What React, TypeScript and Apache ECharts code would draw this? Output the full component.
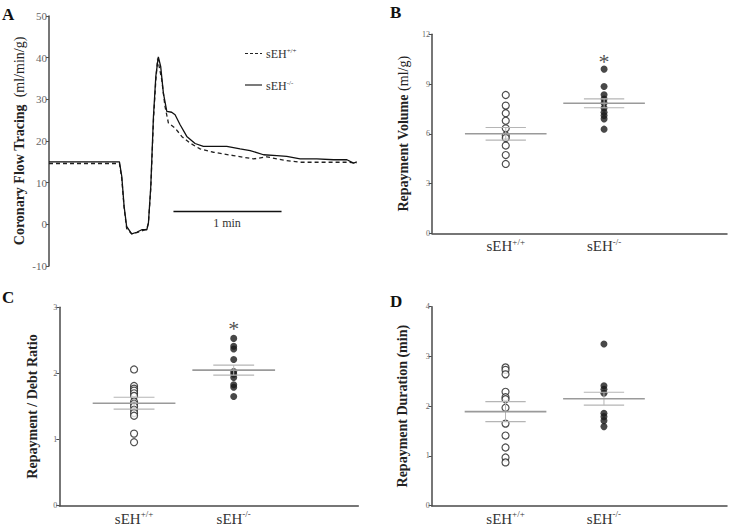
import React, { useEffect, useRef } from "react";
import * as echarts from "echarts";

// Panel A: coronary flow tracing (time in s, flow in ml/min/g)
const koTime = [0, 39.1, 40.4, 41.7, 43.1, 45.9, 48.7, 51.5, 54.3, 55.2, 56.5, 58.0, 59.3, 60.7, 62.0, 63.5, 65.4, 68.1, 70.0, 72.8, 76.5, 81.1, 85.7, 91.3, 98.7, 106.1, 111.7, 119.1, 126.5, 132.0, 139.4, 148.7, 158.0, 165.4, 169.1, 170.9];
const koFlow = [15.0, 15.0, 11.5, 4.3, -0.5, -2.3, -1.9, -1.3, -1.3, 0.3, 9.1, 26, 35.5, 40.2, 37.9, 31.5, 27.1, 26.9, 26.3, 23.9, 21.1, 19.4, 18.7, 18.7, 18.7, 18.1, 17.7, 16.7, 16.5, 16.3, 15.7, 15.7, 15.5, 15.5, 14.7, 15.0];
const wtTime = [0, 39.1, 40.4, 41.7, 43.1, 45.9, 48.7, 51.5, 54.3, 55.2, 56.5, 58.0, 59.3, 60.3, 62.6, 64.4, 66.3, 70.0, 73.7, 78.3, 83.9, 91.3, 102.4, 113.5, 120.9, 130.2, 139.4, 150.6, 165.4, 170.9];
const wtFlow = [14.6, 14.6, 11.0, 4.0, -1.0, -2.3, -2.0, -1.6, -1.1, 0.3, 8.5, 25, 34.5, 39.8, 34.7, 28.3, 24.3, 23.1, 21.1, 19.5, 18.1, 17.3, 16.5, 15.7, 16.2, 15.4, 14.9, 14.9, 14.9, 14.7];
const scaleBarTime = [69.1, 129.1];
const scaleBarLevel = 3.1;

// Group positions on the x scale (0..3)
const groupPos = [0.75, 1.75];
const groupNames = ["+/+", "-/-"];

// Panel B: repayment volume (ml/g)
const volWT = [8.34, 7.7, 7.24, 6.79, 6.33, 5.9, 5.75, 5.29, 4.72, 4.18];
const volKO = [9.9, 8.85, 8.35, 8.1, 7.85, 7.55, 7.3, 7.1, 6.9, 6.28];
const volMean = [6.0, 7.84];
const volSem = [0.38, 0.27];
const volStar = 10.45;

// Panel C: repayment / debt ratio
const ratioWT = [2.06, 1.81, 1.77, 1.74, 1.7, 1.66, 1.57, 1.54, 1.5, 1.45, 1.4, 1.36, 1.09, 0.96];
const ratioKO = [2.53, 2.41, 2.37, 2.21, 2.03, 1.99, 1.94, 1.83, 1.79, 1.65];
const ratioMean = [1.55, 2.05];
const ratioSem = [0.09, 0.075];
const ratioStar = 2.7;

// Panel D: repayment duration (min)
const durWT = [2.78, 2.73, 2.64, 2.29, 2.18, 2.14, 1.97, 1.65, 1.41, 1.17, 0.97, 0.87];
const durKO = [3.25, 2.41, 2.34, 2.26, 1.86, 1.79, 1.71, 1.59];
const durMean = [1.89, 2.15];
const durSem = [0.2, 0.13];

const SERIF = "Liberation Serif, Times New Roman, serif";

export default function App() {
  const ref = useRef<HTMLDivElement>(null);
  useEffect(() => {
    if (!ref.current) return;
    const chart = echarts.init(ref.current, null, { renderer: "svg" });

    const grids = [
      { left: 49, top: 16, width: 308, height: 250 },
      { left: 432, top: 34.3, width: 298, height: 199 },
      { left: 59.3, top: 307.3, width: 299, height: 198.4 },
      { left: 431.7, top: 306.7, width: 298.3, height: 199 },
    ];

    const axisLine = { show: true, lineStyle: { color: "#4a4a4a", width: 1.5 } };
    const yTickLabel = (size: number) => ({ fontSize: size, color: "#666", fontFamily: SERIF, margin: 2 });

    const richName = {
      b: { fontFamily: SERIF, fontWeight: "bold" as const, fontSize: 14, color: "#222" },
      n: { fontFamily: SERIF, fontWeight: "normal" as const, fontSize: 14, color: "#222" },
    };

    const catX = (idx: number) => ({
      gridIndex: idx,
      type: "value",
      min: 0,
      max: 3,
      interval: 0.25,
      axisLine,
      axisTick: { show: false },
      splitLine: { show: false },
      axisLabel: {
        margin: 4,
        formatter: (v: number) => {
          const i = groupPos.findIndex((p) => Math.abs(p - v) < 1e-6);
          return i < 0 ? "" : `{m|sEH}{s|${groupNames[i]}}`;
        },
        rich: {
          m: { fontFamily: SERIF, fontSize: 15, color: "#333", lineHeight: 18 },
          s: { fontFamily: SERIF, fontSize: 9, color: "#333", lineHeight: 9, verticalAlign: "top" },
        },
      },
    });

    const yAx = (idx: number, min: number, max: number, interval: number, name: string, gap: number, fs: number) => ({
      gridIndex: idx,
      type: "value",
      min,
      max,
      interval,
      axisLine,
      axisTick: { show: true, length: 3, lineStyle: { color: "#4a4a4a" } },
      splitLine: { show: false },
      axisLabel: yTickLabel(fs),
      name,
      nameLocation: "middle",
      nameGap: gap,
      nameTextStyle: { rich: richName },
    });

    const scatterPair = (idx: number, wt: number[], ko: number[]) => [
      {
        type: "scatter",
        xAxisIndex: idx,
        yAxisIndex: idx,
        symbol: "circle",
        symbolSize: 7,
        itemStyle: { color: "#fff", borderColor: "#222", borderWidth: 1.2 },
        data: wt.map((v) => [groupPos[0], v]),
        z: 3,
      },
      {
        type: "scatter",
        xAxisIndex: idx,
        yAxisIndex: idx,
        symbol: "circle",
        symbolSize: 7,
        itemStyle: { color: "#1a1a1a" },
        data: ko.map((v) => [groupPos[1], v]),
        z: 3,
      },
    ];

    const meanSem = (idx: number, means: number[], sems: number[]) => ({
      type: "custom",
      xAxisIndex: idx,
      yAxisIndex: idx,
      z: 4,
      data: means.map((m, i) => [groupPos[i], m, sems[i]]),
      renderItem: (params: any, api: any) => {
        const x = api.value(0);
        const m = api.value(1);
        const s = api.value(2);
        const mw = 0.415;
        const sw = 0.205;
        const l0 = api.coord([x - mw, m]);
        const l1 = api.coord([x + mw, m]);
        const up0 = api.coord([x - sw, m + s]);
        const up1 = api.coord([x + sw, m + s]);
        const dn0 = api.coord([x - sw, m - s]);
        const dn1 = api.coord([x + sw, m - s]);
        const vc0 = api.coord([x, m + s]);
        const vc1 = api.coord([x, m - s]);
        return {
          type: "group",
          children: [
            { type: "line", shape: { x1: vc0[0], y1: vc0[1], x2: vc1[0], y2: vc1[1] }, style: { stroke: "#b5b5b5", lineWidth: 1 } },
            { type: "line", shape: { x1: up0[0], y1: up0[1], x2: up1[0], y2: up1[1] }, style: { stroke: "#b5b5b5", lineWidth: 1.2 } },
            { type: "line", shape: { x1: dn0[0], y1: dn0[1], x2: dn1[0], y2: dn1[1] }, style: { stroke: "#b5b5b5", lineWidth: 1.2 } },
            { type: "line", shape: { x1: l0[0], y1: l0[1], x2: l1[0], y2: l1[1] }, style: { stroke: "#9a9a9a", lineWidth: 1.6 } },
          ],
        };
      },
    });

    const star = (idx: number, y: number) => ({
      type: "scatter",
      xAxisIndex: idx,
      yAxisIndex: idx,
      symbolSize: 0,
      data: [[groupPos[1], y]],
      label: {
        show: true,
        position: "inside",
        offset: [0, 1],
        formatter: "*",
        fontFamily: SERIF,
        fontSize: 22,
        color: "#222",
      },
      z: 5,
    });

    const legendText = (t: string, sup: string, x: number, y: number) => ({
      type: "text",
      x,
      y,
      style: {
        text: `{m|${t}}{s|${sup}}`,
        verticalAlign: "middle",
        rich: {
          m: { fontFamily: SERIF, fontSize: 12, fill: "#333", lineHeight: 14 },
          s: { fontFamily: SERIF, fontSize: 7, fill: "#333", lineHeight: 7, verticalAlign: "top" },
        },
      },
    });

    const letter = (t: string, x: number, y: number) => ({
      type: "text",
      x,
      y,
      style: { text: t, fontFamily: SERIF, fontWeight: "bold", fontSize: 17, fill: "#111", verticalAlign: "middle" },
    });

    const option: any = {
      animation: false,
      backgroundColor: "#fff",
      grid: grids,
      xAxis: [
        { gridIndex: 0, type: "value", min: 0, max: 171, show: false },
        catX(1),
        catX(2),
        catX(3),
      ],
      yAxis: [
        yAx(0, -10, 50, 10, "{b|Coronary Flow Tracing}{n|  (ml/min/g)}", 23, 11),
        yAx(1, 0, 12, 3, "{b|Repayment Volume}{n| (ml/g)}", 22, 8),
        yAx(2, 0, 3, 1, "{b|Repayment / Debt Ratio}", 20, 8),
        yAx(3, 0, 4, 1, "{b|Repayment Duration (min)}", 22, 8),
      ],
      series: [
        {
          type: "line",
          xAxisIndex: 0,
          yAxisIndex: 0,
          showSymbol: false,
          symbol: "none",
          data: wtTime.map((t, i) => [t, wtFlow[i]]),
          lineStyle: { color: "#222", width: 1.3, type: [4, 3] },
        },
        {
          type: "line",
          xAxisIndex: 0,
          yAxisIndex: 0,
          showSymbol: false,
          symbol: "none",
          data: koTime.map((t, i) => [t, koFlow[i]]),
          lineStyle: { color: "#111", width: 1.3 },
        },
        {
          type: "line",
          xAxisIndex: 0,
          yAxisIndex: 0,
          symbol: "none",
          data: scaleBarTime.map((t) => [t, scaleBarLevel]),
          lineStyle: { color: "#111", width: 1.5 },
        },
        ...scatterPair(1, volWT, volKO),
        meanSem(1, volMean, volSem),
        star(1, volStar),
        ...scatterPair(2, ratioWT, ratioKO),
        meanSem(2, ratioMean, ratioSem),
        star(2, ratioStar),
        ...scatterPair(3, durWT, durKO),
        meanSem(3, durMean, durSem),
      ],
      graphic: [
        letter("A", 2, 14),
        letter("B", 390, 12),
        letter("C", 2, 297),
        letter("D", 390, 301),
        { type: "line", shape: { x1: 245, y1: 53.5, x2: 262, y2: 53.5 }, style: { stroke: "#222", lineWidth: 1.2, lineDash: [3, 2] } },
        legendText("sEH", "+/+", 266, 54),
        { type: "line", shape: { x1: 245, y1: 85, x2: 262, y2: 85 }, style: { stroke: "#222", lineWidth: 1.2 } },
        legendText("sEH", "-/-", 266, 86),
        {
          type: "text",
          x: 227,
          y: 223,
          style: { text: "1 min", fontFamily: SERIF, fontSize: 12, fill: "#333", align: "center", verticalAlign: "middle" },
        },
      ],
    };
    chart.setOption(option);
    return () => chart.dispose();
  }, []);
  return <div ref={ref} style={{ position: "absolute", left: 0, top: 0, width: 730, height: 527 }} />;
}
